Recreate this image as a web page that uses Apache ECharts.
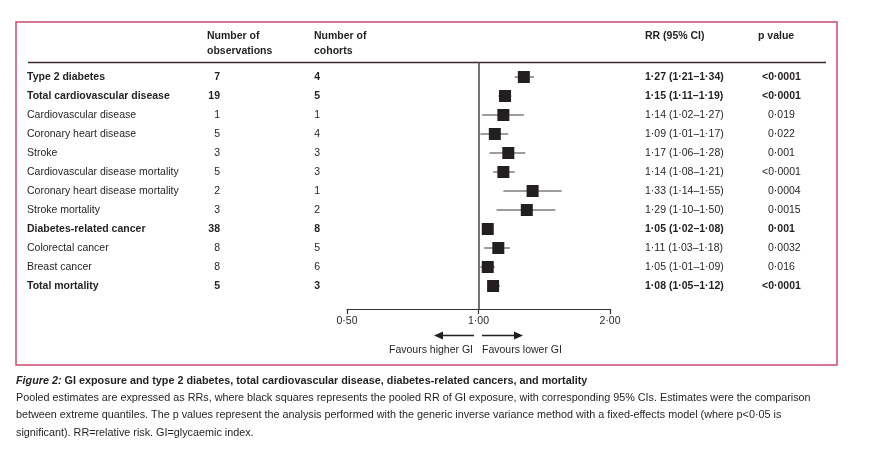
<!DOCTYPE html>
<html>
<head>
<meta charset="utf-8">
<script src="https://cdn.jsdelivr.net/npm/echarts@6/dist/echarts.min.js"></script>
<style>
  html, body { margin: 0; padding: 0; background: #fff; }
  #main { width: 869px; height: 450px; }
</style>
</head>
<body>
<div id="main"></div>
<script>
// forest plot: GI exposure vs outcomes
const outcomes = [
  'Type 2 diabetes', 'Total cardiovascular disease', 'Cardiovascular disease',
  'Coronary heart disease', 'Stroke', 'Cardiovascular disease mortality',
  'Coronary heart disease mortality', 'Stroke mortality', 'Diabetes-related cancer',
  'Colorectal cancer', 'Breast cancer', 'Total mortality'
];
const isSummary = [true, true, false, false, false, false, false, false, true, false, false, true];
const observations = [7, 19, 1, 5, 3, 5, 2, 3, 38, 8, 8, 5];
const cohorts = [4, 5, 1, 4, 3, 3, 1, 2, 8, 5, 6, 3];
const rr = [1.27, 1.15, 1.14, 1.09, 1.17, 1.14, 1.33, 1.29, 1.05, 1.11, 1.05, 1.08];
const ciLow = [1.21, 1.11, 1.02, 1.01, 1.06, 1.08, 1.14, 1.10, 1.02, 1.03, 1.01, 1.05];
const ciHigh = [1.34, 1.19, 1.27, 1.17, 1.28, 1.21, 1.55, 1.50, 1.08, 1.18, 1.09, 1.12];
const pValues = ['<0·0001', '<0·0001', '0·019', '0·022', '0·001', '<0·0001',
  '0·0004', '0·0015', '0·001', '0·0032', '0·016', '<0·0001'];
const tickValues = [0.5, 1, 2];
const tickLabels = ['0·50', '1·00', '2·00'];

const FONT = "'Liberation Sans', Arial, sans-serif";
const INK = '#231f20';

// 1.27 -> "1·27"
const fmt = v => v.toFixed(2).replace('.', '·');

const chart = echarts.init(document.getElementById('main'));

const option = {
  animation: false,
  backgroundColor: '#fff',
  grid: { left: 347, right: 259, top: 62, bottom: 141 },
  xAxis: {
    type: 'log',
    logBase: 2,
    min: 0.5,
    max: 2,
    splitLine: { show: false },
    axisLine: { onZero: false, lineStyle: { color: '#333', width: 1.2 } },
    axisTick: { length: 5, lineStyle: { color: '#333', width: 1.2 } },
    axisLabel: {
      margin: 7,
      fontFamily: FONT,
      fontSize: 10.5,
      color: INK,
      formatter: v => {
        const i = tickValues.findIndex(t => Math.abs(t - v) < 1e-6);
        return i >= 0 ? tickLabels[i] : '';
      }
    }
  },
  yAxis: {
    type: 'value',
    inverse: true,
    min: -0.79,
    max: 12.21,
    show: false
  },
  series: [
    {
      // confidence intervals
      type: 'custom',
      data: rr.map((v, i) => [i, ciLow[i], ciHigh[i]]),
      encode: { x: [1, 2], y: 0 },
      renderItem: (params, api) => {
        const row = api.value(0);
        const a = api.coord([api.value(1), row]);
        const b = api.coord([api.value(2), row]);
        return {
          type: 'line',
          shape: { x1: a[0], y1: a[1], x2: b[0], y2: b[1] },
          style: { stroke: '#7d7d7d', lineWidth: 1.5 }
        };
      },
      z: 2
    },
    {
      type: 'scatter',
      data: rr.map((v, i) => [v, i]),
      symbol: 'rect',
      symbolSize: 12,
      itemStyle: { color: INK, opacity: 1 },
      z: 3,
      markLine: {
        silent: true,
        symbol: 'none',
        label: { show: false },
        lineStyle: { color: '#444', width: 1.5, type: 'solid' },
        data: [{ xAxis: 1 }]
      }
    }
  ]
};
option && chart.setOption(option);

// table text + decorations, rows placed through the y scale
const rowY = i => chart.convertToPixel({ yAxisIndex: 0 }, i);
const txt = (x, y, s, opts) => ({
  type: 'text', x, y,
  style: Object.assign({
    text: s, fontFamily: FONT, fontSize: 10.5, fill: INK,
    align: 'left', verticalAlign: 'middle'
  }, opts || {})
});

const g = [];
// frame
g.push({ type: 'rect', shape: { x: 16, y: 22, width: 821, height: 343 },
  style: { fill: 'none', stroke: '#c94a6c', lineWidth: 1.5 } });
g.push({ type: 'line', shape: { x1: 28, y1: 62.5, x2: 826, y2: 62.5 },
  style: { stroke: '#3b2b2b', lineWidth: 1.3 } });
// header
const hb = { fontWeight: 'bold' };
g.push(txt(207, 36, 'Number of', hb));
g.push(txt(207, 51, 'observations', hb));
g.push(txt(314, 36, 'Number of', hb));
g.push(txt(314, 51, 'cohorts', hb));
g.push(txt(645, 36, 'RR (95% CI)', hb));
g.push(txt(758, 36, 'p value', hb));

outcomes.forEach((name, i) => {
  const y = rowY(i);
  const o = isSummary[i] ? { fontWeight: 'bold' } : {};
  g.push(txt(27, y, name, o));
  g.push(txt(220, y, String(observations[i]), Object.assign({ align: 'right' }, o)));
  g.push(txt(320, y, String(cohorts[i]), Object.assign({ align: 'right' }, o)));
  g.push(txt(645, y, fmt(rr[i]) + ' (' + fmt(ciLow[i]) + '–' + fmt(ciHigh[i]) + ')', o));
  const p = pValues[i];
  g.push(txt(p[0] === '<' ? 762 : 768, y, p, o));
});

// favours arrows
const ay = 335.5;
g.push({ type: 'line', shape: { x1: 474, y1: ay, x2: 441, y2: ay }, style: { stroke: INK, lineWidth: 1.3 } });
g.push({ type: 'polygon', shape: { points: [[434, ay], [443, ay - 4], [443, ay + 4]] }, style: { fill: INK } });
g.push({ type: 'line', shape: { x1: 482, y1: ay, x2: 515, y2: ay }, style: { stroke: INK, lineWidth: 1.3 } });
g.push({ type: 'polygon', shape: { points: [[523, ay], [514, ay - 4], [514, ay + 4]] }, style: { fill: INK } });
g.push(txt(473, 350, 'Favours higher GI', { align: 'right' }));
g.push(txt(482, 350, 'Favours lower GI'));

// caption
g.push({
  type: 'text', x: 16, y: 381,
  style: {
    text: '{it|Figure 2:} GI exposure and type 2 diabetes, total cardiovascular disease, diabetes-related cancers, and mortality',
    fontFamily: FONT, fontSize: 10.8, fontWeight: 'bold', fill: INK, verticalAlign: 'middle',
    rich: { it: { fontStyle: 'italic', fontWeight: 'bold', fontFamily: FONT, fontSize: 10.8, fill: INK } }
  }
});
const captionLines = [
  'Pooled estimates are expressed as RRs, where black squares represents the pooled RR of GI exposure, with corresponding 95% CIs. Estimates were the comparison',
  'between extreme quantiles. The p values represent the analysis performed with the generic inverse variance method with a fixed-effects model (where p<0·05 is',
  'significant). RR=relative risk. GI=glycaemic index.'
];
captionLines.forEach((s, k) => g.push(txt(16, 398 + k * 17.3, s, { fontSize: 10.8 })));

chart.setOption({ graphic: g });
</script>
</body>
</html>
